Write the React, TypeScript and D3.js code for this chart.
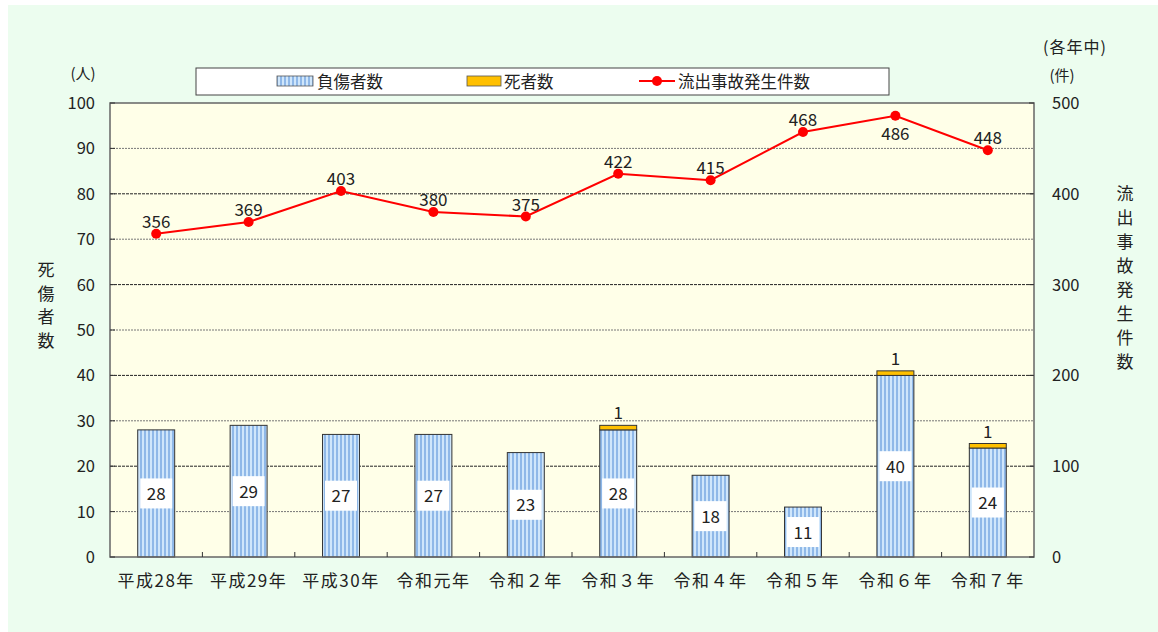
import React from "react";
import * as d3 from "d3";

const years = ["平成28年", "平成29年", "平成30年", "令和元年", "令和２年", "令和３年", "令和４年", "令和５年", "令和６年", "令和７年"];
const injured = [28, 29, 27, 27, 23, 28, 18, 11, 40, 24];
const deaths = [0, 0, 0, 0, 0, 1, 0, 0, 1, 1];
const accidents = [356, 369, 403, 380, 375, 422, 415, 468, 486, 448];
// labels placed below the point instead of above
const labelBelow = [false, false, false, false, false, false, false, false, true, false];
const leftTicks = [0, 10, 20, 30, 40, 50, 60, 70, 80, 90, 100];
const rightTicks = [0, 100, 200, 300, 400, 500];

const FONT = "'Noto Sans CJK JP', 'Noto Sans', sans-serif";

export default function App() {
  const W = 1158;
  const H = 632;
  const m = { left: 110, right: 1034, top: 103, bottom: 557 };

  const x = d3.scaleBand<string>().domain(years).range([m.left, m.right]).paddingInner(0.6).paddingOuter(0.3);
  const xc = d3.scalePoint<string>().domain(years).range([m.left, m.right]).padding(0.5);
  const yL = d3.scaleLinear().domain([0, 100]).range([m.bottom, m.top]);
  const yR = d3.scaleLinear().domain([0, 500]).range([m.bottom, m.top]);

  const line = d3
    .line<number>()
    .x((_, i) => xc(years[i]) as number)
    .y((d) => yR(d));

  const bw = x.bandwidth();

  return (
    <svg width={W} height={H} style={{ position: "absolute", left: 0, top: 0 }} fontFamily={FONT}>
      <defs>
        <pattern id="stripes" width={4} height={10} patternUnits="userSpaceOnUse">
          <rect width={4} height={10} fill="#cfe6fb" />
          <rect width={2} height={10} fill="#8fb8e8" />
        </pattern>
      </defs>
      <rect x={0} y={0} width={W} height={H} fill="#ffffff" />
      <rect x={8} y={5} width={1150} height={627} fill="#ecfdef" />
      <rect x={m.left} y={m.top} width={m.right - m.left} height={m.bottom - m.top} fill="#ffffe8" />

      {/* gridlines */}
      {leftTicks.slice(1, -1).map((t) => (
        <line
          key={t}
          x1={m.left}
          x2={m.right}
          y1={yL(t)}
          y2={yL(t)}
          stroke={t % 20 === 0 ? "#222" : "#777"}
          strokeWidth={1}
          strokeDasharray={t % 20 === 0 ? "3,1" : "2,1"}
        />
      ))}

      {/* bars */}
      {years.map((yr, i) => {
        const x0 = x(yr) as number;
        const top = yL(injured[i]);
        const mid = (top + yL(0)) / 2;
        return (
          <g key={yr}>
            <rect x={x0} y={top} width={bw} height={yL(0) - top} fill="url(#stripes)" stroke="#333" strokeWidth={1} />
            {deaths[i] > 0 && (
              <>
                <rect
                  x={x0}
                  y={yL(injured[i] + deaths[i])}
                  width={bw}
                  height={top - yL(injured[i] + deaths[i])}
                  fill="#ffc000"
                  stroke="#333"
                  strokeWidth={1}
                />
                <text x={x0 + bw / 2} y={yL(injured[i] + deaths[i]) - 6} textAnchor="middle" fontSize={17} fill="#222">
                  {deaths[i]}
                </text>
              </>
            )}
            <rect x={x0 + bw / 2 - 16} y={mid - 15} width={32} height={30} fill="#ffffff" />
            <text x={x0 + bw / 2} y={mid + 6.5} textAnchor="middle" fontSize={17} fill="#222">
              {injured[i]}
            </text>
          </g>
        );
      })}

      {/* plot frame */}
      <rect x={m.left} y={m.top} width={m.right - m.left} height={m.bottom - m.top} fill="none" stroke="#666" strokeWidth={1.5} />

      {/* category ticks */}
      {years.slice(1).map((yr) => {
        const xb = (xc(yr) as number) - xc.step() / 2;
        return <line key={yr} x1={xb} x2={xb} y1={m.bottom} y2={m.bottom - 5} stroke="#333" />;
      })}
      {leftTicks.map((t) => (
        <line key={"l" + t} x1={m.left} x2={m.left + 5} y1={yL(t)} y2={yL(t)} stroke="#333" />
      ))}
      {rightTicks.map((t) => (
        <line key={"r" + t} x1={m.right - 5} x2={m.right} y1={yR(t)} y2={yR(t)} stroke="#333" />
      ))}

      {/* line */}
      <path d={line(accidents) ?? ""} fill="none" stroke="#ff0000" strokeWidth={2} />
      {accidents.map((v, i) => (
        <g key={i}>
          <circle cx={xc(years[i])} cy={yR(v)} r={5} fill="#ff0000" />
          <text x={xc(years[i])} y={labelBelow[i] ? yR(v) + 24 : yR(v) - 6} textAnchor="middle" fontSize={17} fill="#222">
            {v}
          </text>
        </g>
      ))}

      {/* axes labels */}
      {leftTicks.map((t) => (
        <text key={"lt" + t} x={95} y={yL(t) + 6} textAnchor="end" fontSize={16.5} fill="#222">
          {t}
        </text>
      ))}
      {rightTicks.map((t) => (
        <text key={"rt" + t} x={1052} y={yR(t) + 6} textAnchor="start" fontSize={16.5} fill="#222">
          {t}
        </text>
      ))}
      {years.map((yr) => (
        <text key={"x" + yr} x={xc(yr)} y={587} textAnchor="middle" fontSize={17} fill="#222" letterSpacing={1.5}>
          {yr}
        </text>
      ))}

      <text x={83} y={79} textAnchor="middle" fontSize={15} fill="#222">(人)</text>
      <text x={1062} y={81} textAnchor="middle" fontSize={15} fill="#222">(件)</text>
      <text x={1075} y={53} textAnchor="middle" fontSize={16} fill="#222" letterSpacing={1}>(各年中)</text>
      {"死傷者数".split("").map((c, i) => (
        <text key={"yl" + c} x={46} y={276 + i * 23.5} textAnchor="middle" fontSize={17} fill="#222">
          {c}
        </text>
      ))}
      {"流出事故発生件数".split("").map((c, i) => (
        <text key={"yr" + i} x={1125} y={200 + i * 24} textAnchor="middle" fontSize={17} fill="#222">
          {c}
        </text>
      ))}

      {/* legend */}
      <rect x={196} y={68} width={693} height={27} fill="#ffffff" stroke="#444" strokeWidth={1} />
      <rect x={277} y={76} width={36} height={10} fill="url(#stripes)" stroke="#555" strokeWidth={0.8} />
      <text x={317} y={88} fontSize={16.5} fill="#222">負傷者数</text>
      <rect x={467} y={76} width={34} height={10} fill="#ffc000" stroke="#555" strokeWidth={0.8} />
      <text x={504} y={88} fontSize={16.5} fill="#222">死者数</text>
      <line x1={639} x2={675} y1={81} y2={81} stroke="#ff0000" strokeWidth={2} />
      <circle cx={657} cy={81} r={5} fill="#ff0000" />
      <text x={678} y={88} fontSize={16.5} fill="#222">流出事故発生件数</text>
    </svg>
  );
}
